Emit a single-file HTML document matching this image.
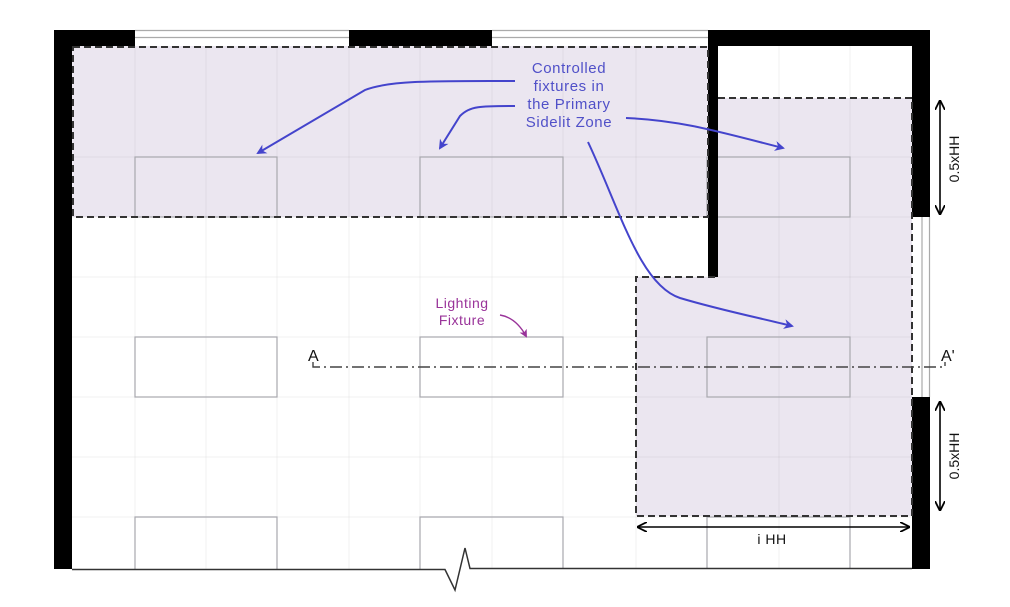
<!DOCTYPE html>
<html><head><meta charset="utf-8"><style>html,body{margin:0;padding:0;background:#fff}svg{display:block}</style></head>
<body>
<svg width="1010" height="607" viewBox="0 0 1010 607" xmlns="http://www.w3.org/2000/svg" font-family="Liberation Sans, DejaVu Sans, sans-serif">
<defs>
<marker id="ab" markerWidth="10" markerHeight="10" refX="8" refY="5" orient="auto" markerUnits="userSpaceOnUse"><path d="M0,0 L10,5 L0,10 L3,5 z" fill="#4444cc"/></marker>
<marker id="ap" markerWidth="8" markerHeight="8" refX="6" refY="4" orient="auto" markerUnits="userSpaceOnUse"><path d="M0,0 L8,4 L0,8 L2,4 z" fill="#993399"/></marker>
<marker id="ak" markerWidth="10" markerHeight="10" refX="9" refY="5" orient="auto" markerUnits="userSpaceOnUse"><path d="M0,0 L10,5 L0,10" fill="none" stroke="#000" stroke-width="1.8"/></marker>
<marker id="aks" markerWidth="10" markerHeight="10" refX="1" refY="5" orient="auto" markerUnits="userSpaceOnUse"><path d="M10,0 L0,5 L10,10" fill="none" stroke="#000" stroke-width="1.8"/></marker>
</defs>
<rect x="72" y="46" width="636" height="171" fill="#ebe6f0"/>
<path d="M718,98 L912,98 L912,516 L636,516 L636,277 L718,277 Z" fill="#ebe6f0"/>
<g stroke="#000" stroke-opacity="0.05" stroke-width="1">
<line x1="135" y1="46" x2="135" y2="569"/><line x1="206" y1="46" x2="206" y2="569"/><line x1="277" y1="46" x2="277" y2="569"/><line x1="349" y1="46" x2="349" y2="569"/><line x1="420" y1="46" x2="420" y2="569"/><line x1="492" y1="46" x2="492" y2="569"/><line x1="563" y1="46" x2="563" y2="569"/><line x1="636" y1="46" x2="636" y2="569"/><line x1="779" y1="46" x2="779" y2="569"/><line x1="850" y1="46" x2="850" y2="569"/>
<line x1="72" y1="157" x2="912" y2="157"/><line x1="72" y1="217" x2="912" y2="217"/><line x1="72" y1="277" x2="912" y2="277"/><line x1="72" y1="337" x2="912" y2="337"/><line x1="72" y1="397" x2="912" y2="397"/><line x1="72" y1="457" x2="912" y2="457"/><line x1="72" y1="517" x2="912" y2="517"/>
</g>
<g fill="none" stroke="#a8a8ae" stroke-width="1.2">
<rect x="135" y="157" width="142" height="60"/><rect x="420" y="157" width="143" height="60"/><rect x="707" y="157" width="143" height="60"/>
<rect x="135" y="337" width="142" height="60"/><rect x="420" y="337" width="143" height="60"/><rect x="707" y="337" width="143" height="60"/>
<path d="M135,569 V517 H277 V569"/><path d="M420,569 V517 H563 V569"/><path d="M707,569 V517 H850 V569"/>
</g>
<g stroke="#aaa" stroke-width="1.2" fill="none">
<line x1="135" y1="30.5" x2="349" y2="30.5"/><line x1="135" y1="37.5" x2="349" y2="37.5"/>
<line x1="492" y1="30.5" x2="708" y2="30.5"/><line x1="492" y1="37.5" x2="708" y2="37.5"/>
<line x1="922" y1="217" x2="922" y2="397"/><line x1="929.5" y1="217" x2="929.5" y2="397"/>
</g>
<g fill="#000">
<rect x="54" y="30" width="18" height="539"/>
<rect x="54" y="30" width="81" height="16"/>
<rect x="349" y="30" width="143" height="16"/>
<rect x="708" y="30" width="222" height="16"/>
<rect x="708" y="30" width="10" height="247"/>
<rect x="912" y="30" width="18" height="187"/>
<rect x="912" y="397" width="18" height="172"/>
</g>
<path d="M72,569.5 H445 L455,590 L465,548 L470,568.5 H912" fill="none" stroke="#333" stroke-width="1.5"/>
<g fill="none" stroke="#333" stroke-width="2" stroke-dasharray="7,4">
<rect x="73" y="47" width="635" height="170"/>
<path d="M718,98 H912 V516 H636 V277 H718"/>
</g>
<path d="M313,362 V367 H945 V362" fill="none" stroke="#444" stroke-width="1.4" stroke-dasharray="12,4,2,4"/>
<text x="308" y="361" font-size="16" fill="#111">A</text>
<text x="941" y="361" font-size="16" fill="#111">A'</text>
<g stroke="#000" stroke-width="1.6">
<line x1="940" y1="101" x2="940" y2="214" marker-start="url(#aks)" marker-end="url(#ak)"/>
<line x1="940" y1="402" x2="940" y2="510" marker-start="url(#aks)" marker-end="url(#ak)"/>
<line x1="638" y1="527" x2="909" y2="527" marker-start="url(#aks)" marker-end="url(#ak)"/>
</g>
<text transform="translate(959,159) rotate(-90)" text-anchor="middle" font-size="14" fill="#111">0.5xHH</text>
<text transform="translate(959,456) rotate(-90)" text-anchor="middle" font-size="14" fill="#111">0.5xHH</text>
<text x="772" y="544" text-anchor="middle" font-size="14" fill="#111" letter-spacing="0.5">i HH</text>
<g font-size="15" fill="#5050c8" text-anchor="middle" letter-spacing="0.6">
<text x="569" y="73">Controlled</text>
<text x="569" y="91">fixtures in</text>
<text x="569" y="109">the Primary</text>
<text x="569" y="127">Sidelit Zone</text>
</g>
<g fill="none" stroke="#4444cc" stroke-width="2">
<path d="M515,81 C440,81 390,80 365,90 L258,153" marker-end="url(#ab)"/>
<path d="M515,106 C480,106 470,106 460,116 L440,148" marker-end="url(#ab)"/>
<path d="M626,118 C680,120 720,132 783,148" marker-end="url(#ab)"/>
<path d="M588,142 C620,210 640,285 680,298 C720,310 760,318 792,326" marker-end="url(#ab)"/>
</g>
<g font-size="14" fill="#993399" text-anchor="middle" letter-spacing="0.5">
<text x="462" y="308">Lighting</text>
<text x="462" y="325">Fixture</text>
</g>
<path d="M500,315 C512,317 520,325 526,336" fill="none" stroke="#993399" stroke-width="1.4" marker-end="url(#ap)"/>
</svg>
</body></html>
